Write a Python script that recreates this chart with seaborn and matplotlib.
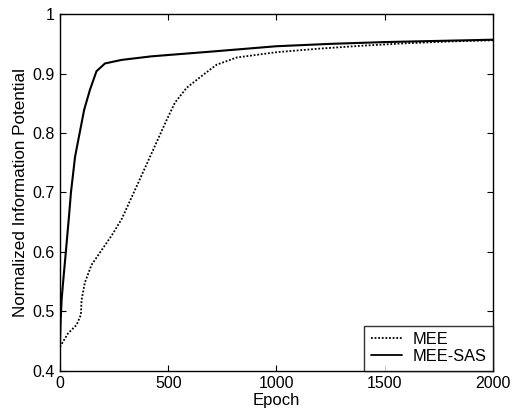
import matplotlib
matplotlib.use("Agg")
import matplotlib.pyplot as plt
import seaborn as sns
import pandas as pd

sns.set_theme(style="ticks")
plt.rcParams['font.family'] = ['Liberation Sans', 'DejaVu Sans']
plt.rcParams['text.color'] = 'black'
plt.rcParams['axes.labelcolor'] = 'black'

mee_epoch = [0, 38, 77, 97, 100, 115, 146, 193, 240, 285, 354, 431, 493, 531, 585, 662, 724, 816, 1001, 1200, 1400, 1600, 1800, 2000]
mee_val = [0.440, 0.463, 0.477, 0.494, 0.519, 0.548, 0.578, 0.603, 0.628, 0.655, 0.710, 0.772, 0.822, 0.851, 0.876, 0.898, 0.915, 0.927, 0.936, 0.942, 0.947, 0.951, 0.954, 0.956]

sas_epoch = [0, 3, 8, 15, 25, 42, 51, 70, 88, 112, 139, 169, 208, 285, 423, 700, 1000, 1250, 1500, 1750, 2000]
sas_val = [0.440, 0.480, 0.520, 0.550, 0.590, 0.660, 0.700, 0.760, 0.794, 0.839, 0.873, 0.904, 0.917, 0.923, 0.929, 0.937, 0.946, 0.950, 0.953, 0.955, 0.957]

df = pd.concat([
    pd.DataFrame({"Epoch": mee_epoch, "val": mee_val, "method": "MEE"}),
    pd.DataFrame({"Epoch": sas_epoch, "val": sas_val, "method": "MEE-SAS"}),
])

fig = plt.figure(figsize=(5.12, 4.16), dpi=100)
ax = fig.add_axes([0.117, 0.109, 0.846, 0.857])
sns.lineplot(data=df, x="Epoch", y="val", hue="method", style="method",
             palette={"MEE": "black", "MEE-SAS": "black"},
             dashes={"MEE": (1, 1), "MEE-SAS": ""},
             linewidth=1.5, ax=ax, legend=True)
ax.lines[0].set_linewidth(1.3)
ax.set_xlim(0, 2000)
ax.set_ylim(0.4, 1.0)
ax.set_xticks([0, 500, 1000, 1500, 2000])
ax.set_yticks([0.4, 0.5, 0.6, 0.7, 0.8, 0.9, 1.0])
ax.set_yticklabels(["0.4", "0.5", "0.6", "0.7", "0.8", "0.9", "1"])
ax.tick_params(direction="in", length=4, width=0.8, top=True, right=True, labelsize=11.5,
               colors="black", labelcolor="black", pad=4)
for s in ax.spines.values():
    s.set_color("black")
    s.set_linewidth(1.0)
ax.set_xlabel("Epoch", fontsize=12, labelpad=1, color="black")
ax.set_ylabel("Normalized Information Potential", fontsize=12.3, labelpad=3, color="black")
leg = ax.legend(loc="lower right", fontsize=11.8, frameon=True, fancybox=False,
                edgecolor="black", borderaxespad=0, handlelength=1.9,
                borderpad=0.4, labelspacing=0.12, handletextpad=0.65)
leg.get_frame().set_linewidth(1.0)
for t in leg.get_texts():
    t.set_color("black")
for h in leg.get_lines():
    h.set_linewidth(1.3)
fig.savefig("out.png", dpi=100)
